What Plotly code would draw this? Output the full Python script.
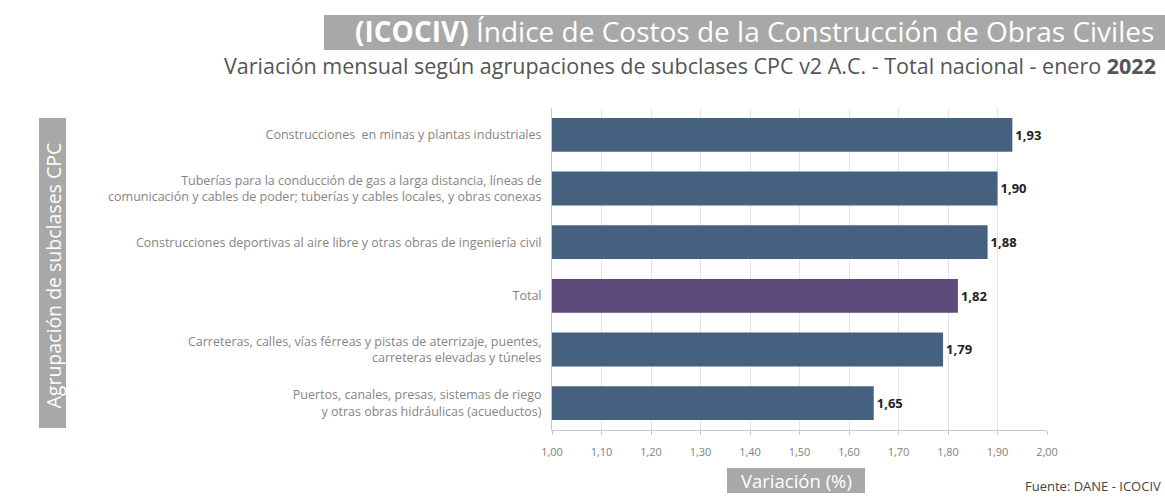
import plotly.graph_objects as go

categories = [
    "Construcciones  en minas y plantas industriales",
    "Tuberías para la conducción de gas a larga distancia, líneas de<br>comunicación y cables de poder; tuberías y cables locales, y obras conexas",
    "Construcciones deportivas al aire libre y otras obras de ingeniería civil",
    "Total",
    "Carreteras, calles, vías férreas y pistas de aterrizaje, puentes,<br>carreteras elevadas y túneles",
    "Puertos, canales, presas, sistemas de riego<br>y otras obras hidráulicas (acueductos)",
]
values = [1.93, 1.90, 1.88, 1.82, 1.79, 1.65]
tick_vals = [1.0, 1.1, 1.2, 1.3, 1.4, 1.5, 1.6, 1.7, 1.8, 1.9, 2.0]
axis_base = 1.0

BLUE = "#46607f"
PURPLE = "#5f4a7c"
colors = [PURPLE if c == "Total" else BLUE for c in categories]

W, H = 1165, 504
L, R, T, B = 552, 1047, 108, 430

def px(x):
    return (x - L) / (R - L)

def py(y):
    return (B - y) / (B - T)

fig = go.Figure(go.Bar(
    x=[v - axis_base for v in values], y=categories, orientation="h",
    base=axis_base,
    marker=dict(color=colors, line=dict(width=0)),
    text=[f"{v:.2f}".replace(".", ",") for v in values],
    texttemplate="<b>%{text}</b>", textposition="outside",
    textfont=dict(family="Open Sans", size=13, color="#222222"),
    cliponaxis=False,
))

fig.update_layout(
    width=W, height=H,
    margin=dict(l=L, r=W - R, t=T, b=H - B, autoexpand=False),
    paper_bgcolor="white", plot_bgcolor="white",
    separators=",.",
    bargap=0.37,
    showlegend=False,
    font=dict(family="Open Sans", color="#666666"),
)
fig.update_xaxes(
    range=[1.0, 2.0], tickvals=tick_vals, tickformat=".2f",
    showgrid=True, gridcolor="#e6e6e6", gridwidth=1,
    showline=True, linecolor="#c8c8c8", linewidth=1,
    ticks="outside", ticklen=4, tickcolor="#c8c8c8",
    ticklabelstandoff=8,
    tickfont=dict(family="Open Sans", size=11, color="#808080"),
    zeroline=False, fixedrange=True,
)
fig.update_yaxes(
    categoryorder="array", categoryarray=categories[::-1],
    autorange=False, range=[-0.5, 5.5],
    showline=True, linecolor="#c8c8c8", linewidth=1,
    ticks="", ticklabelstandoff=7,
    tickfont=dict(family="Open Sans", size=12.5, color="#858585"),
    showgrid=False,
)

GREY = "#a8a8a8"
shapes = [
    dict(type="rect", xref="paper", yref="paper",
         x0=px(324), x1=px(1165), y0=py(50), y1=py(15),
         fillcolor=GREY, line=dict(width=0), layer="below"),
    dict(type="rect", xref="paper", yref="paper",
         x0=px(39), x1=px(66), y0=py(428), y1=py(118),
         fillcolor=GREY, line=dict(width=0), layer="below"),
    dict(type="rect", xref="paper", yref="paper",
         x0=px(727), x1=px(865), y0=py(493), y1=py(468),
         fillcolor=GREY, line=dict(width=0), layer="below"),
]
fig.update_layout(shapes=shapes)

annotations = [
    dict(text="<b>(ICOCIV)</b> Índice de Costos de la Construcción de Obras Civiles",
         xref="paper", yref="paper", x=px(1156), y=py(31),
         xanchor="right", yanchor="middle", showarrow=False,
         font=dict(family="Open Sans", size=28, color="white")),
    dict(text="Variación mensual según agrupaciones de subclases CPC v2 A.C. - Total nacional - enero <b>2022</b>",
         xref="paper", yref="paper", x=px(1158), y=py(65.5),
         xanchor="right", yanchor="middle", showarrow=False,
         font=dict(family="Open Sans", size=21.5, color="#555555")),
    dict(text="Agrupación de subclases CPC",
         xref="paper", yref="paper", x=px(52.5), y=py(276),
         xanchor="center", yanchor="middle", showarrow=False, textangle=-90,
         font=dict(family="Open Sans", size=19.5, color="white")),
    dict(text="Variación (%)",
         xref="paper", yref="paper", x=px(796), y=py(481),
         xanchor="center", yanchor="middle", showarrow=False,
         font=dict(family="Open Sans", size=18.5, color="white")),
    dict(text="Fuente: DANE - ICOCIV",
         xref="paper", yref="paper", x=px(1163), y=py(486),
         xanchor="right", yanchor="middle", showarrow=False,
         font=dict(family="Open Sans", size=13, color="#444444")),
]
fig.update_layout(annotations=annotations)

fig.write_html("out.html", config={"displayModeBar": False},
               post_script="document.body.style.margin='0';")
